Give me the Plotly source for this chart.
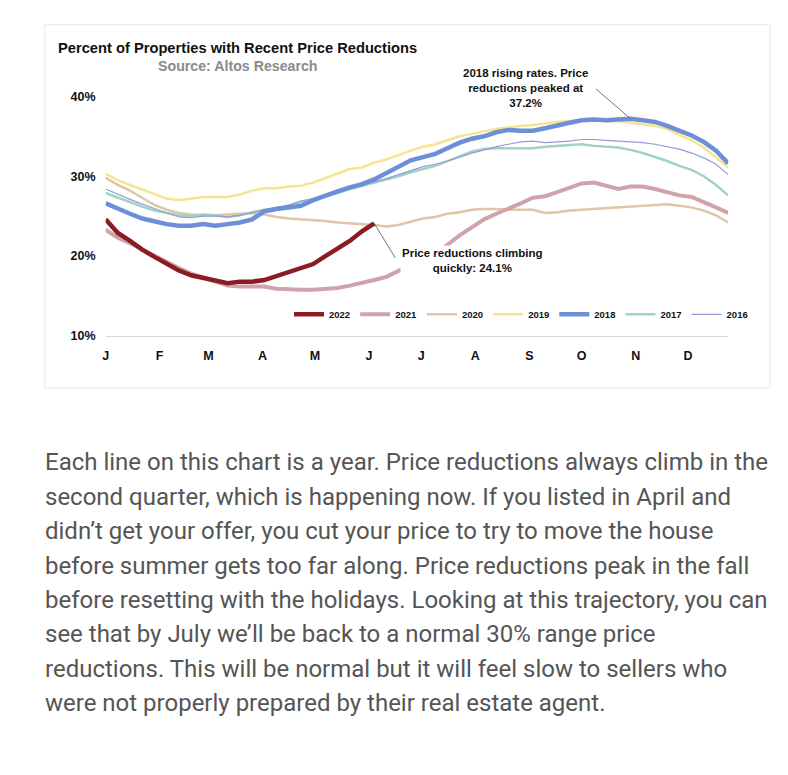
import plotly.graph_objects as go

# ---------------- data ----------------
MONTH_LABELS = ["J", "F", "M", "A", "M", "J", "J", "A", "S", "O", "N", "D"]
MONTH_START_DAY = [0, 31, 59, 90, 120, 151, 181, 212, 243, 273, 304, 334]

YEARS = ["2022", "2021", "2020", "2019", "2018", "2017", "2016"]

Y2022 = [24.6, 22.9, 21.9, 20.8, 19.9, 19.0, 18.2, 17.6, 17.3, 16.9, 16.6, 16.8,
         16.8, 17.0, 17.5, 18.1, 18.6, 19.0, 20.0, 21.0, 21.9, 23.1, 24.1]

Y2021 = [23.3, 22.3, 21.6, 20.8, 20.1, 19.3, 18.5, 17.8, 17.3, 16.7, 16.3, 16.2,
         16.2, 16.2, 15.9, 15.8, 15.8, 15.8, 15.9, 16.0, 16.3, 16.6, 17.0, 17.4,
         18.2, 18.9, 19.6, 20.4, 21.4, 22.6, 23.6, 24.6, 25.3, 25.9, 26.6, 27.3,
         27.5, 28.0, 28.6, 29.1, 29.2, 28.8, 28.4, 28.7, 28.7, 28.4, 28.0, 27.6,
         27.4, 26.8, 26.1, 25.4]

Y2020 = [29.8, 28.9, 28.2, 27.3, 26.4, 25.8, 25.4, 25.2, 25.1, 25.1, 25.2, 25.3,
         25.4, 25.2, 24.9, 24.7, 24.6, 24.5, 24.4, 24.2, 24.1, 24.0, 23.9, 23.7,
         23.9, 24.3, 24.7, 24.9, 25.3, 25.5, 25.8, 25.9, 25.9, 25.8, 25.8, 25.8,
         25.4, 25.5, 25.7, 25.8, 25.9, 26.0, 26.1, 26.2, 26.3, 26.4, 26.5, 26.3,
         26.1, 25.7, 25.1, 24.2]

Y2019 = [30.3, 29.5, 28.9, 28.3, 27.8, 27.2, 27.0, 27.2, 27.4, 27.4, 27.4, 27.7,
         28.2, 28.5, 28.5, 28.7, 28.8, 29.2, 29.8, 30.3, 30.9, 31.1, 31.7, 32.1,
         32.7, 33.2, 33.7, 34.0, 34.5, 35.0, 35.3, 35.6, 35.9, 36.1, 36.3, 36.4,
         36.6, 36.8, 36.9, 37.0, 37.0, 36.9, 36.9, 36.7, 36.5, 36.3, 35.9, 35.2,
         34.5, 33.6, 32.4, 31.1]

Y2018 = [26.6, 25.9, 25.3, 24.7, 24.3, 24.0, 23.8, 23.8, 24.0, 23.8, 24.0, 24.2,
         24.6, 25.6, 25.9, 26.1, 26.3, 27.0, 27.6, 28.1, 28.6, 29.0, 29.6, 30.4,
         31.3, 32.0, 32.4, 32.8, 33.5, 34.2, 34.7, 35.0, 35.5, 35.8, 35.7, 35.7,
         36.0, 36.4, 36.7, 37.0, 37.1, 37.0, 37.1, 37.2, 37.0, 36.8, 36.3, 35.7,
         35.1, 34.3, 33.2, 31.6]

Y2017 = [27.9, 27.3, 26.8, 26.2, 25.7, 25.4, 25.1, 25.0, 25.2, 25.1, 24.9, 25.1,
         25.5, 25.8, 26.0, 26.3, 26.8, 27.1, 27.5, 27.9, 28.4, 28.8, 29.2, 29.6,
         30.0, 30.5, 30.9, 31.3, 31.9, 32.5, 33.1, 33.4, 33.5, 33.5, 33.5, 33.5,
         33.7, 33.8, 33.9, 34.0, 33.8, 33.7, 33.6, 33.3, 32.9, 32.4, 31.9, 31.3,
         30.8, 30.0, 28.9, 27.6]

Y2016 = [28.4, 27.8, 27.1, 26.5, 25.9, 25.4, 24.9, 24.8, 25.0, 25.0, 24.9, 25.1,
         25.4, 25.8, 26.1, 26.4, 26.9, 27.2, 27.6, 28.0, 28.4, 28.9, 29.3, 29.7,
         30.2, 30.7, 31.2, 31.5, 31.9, 32.4, 32.9, 33.3, 33.7, 34.0, 34.3, 34.4,
         34.2, 34.3, 34.4, 34.6, 34.6, 34.5, 34.4, 34.3, 34.2, 34.0, 33.7, 33.4,
         32.9, 32.3, 31.5, 30.2]

Y_TICKS = [10, 20, 30, 40]
Y_TICK_TEXT = ["10%", "20%", "30%", "40%"]

BODY_LINES = [
    "Each line on this chart is a year. Price reductions always climb in the",
    "second quarter, which is happening now. If you listed in April and",
    "didn\u2019t get your offer, you cut your price to try to move the house",
    "before summer gets too far along. Price reductions peak in the fall",
    "before resetting with the holidays. Looking at this trajectory, you can",
    "see that by July we\u2019ll be back to a normal 30% range price",
    "reductions. This will be normal but it will feel slow to sellers who",
    "were not properly prepared by their real estate agent.",
]

# ---------------- layout helpers ----------------
W, H = 788, 775


def px(x):
    return x / W


def py(y):
    return 1 - y / H


FONT = "Arial, Liberation Sans, sans-serif"

series = {
    "2022": (Y2022, "#8B1C24", 4.5),
    "2021": (Y2021, "#D2A2AB", 4.0),
    "2020": (Y2020, "#DEC6A7", 2.5),
    "2019": (Y2019, "#F8E48F", 2.5),
    "2018": (Y2018, "#6D8FD7", 4.5),
    "2017": (Y2017, "#A0D3C4", 2.5),
    "2016": (Y2016, "#949CD8", 1.2),
}
draw_order = ["2020", "2019", "2017", "2016", "2021", "2018", "2022"]

fig = go.Figure()
for name in draw_order:
    vals, color, width = series[name]
    fig.add_trace(go.Scatter(
        x=list(range(len(vals))), y=vals, mode="lines", name=name,
        line=dict(color=color, width=width),
        legendrank=YEARS.index(name) + 1,
        hoverinfo="skip",
    ))

tick_pos = [d / 7 for d in MONTH_START_DAY]

annotations = [
    dict(text="Percent of Properties with Recent Price Reductions",
         x=px(235.5), y=py(42), xref="paper", yref="paper", showarrow=False,
         xanchor="center", yanchor="middle",
         font=dict(family=FONT, size=14.7, color="#111111", weight="bold")),
    dict(text="Source: Altos Research",
         x=px(235.5), y=py(60), xref="paper", yref="paper", showarrow=False,
         xanchor="center", yanchor="middle",
         font=dict(family=FONT, size=14.2, color="#8a8a8a", weight="bold")),
    dict(text="2018 rising rates. Price<br>reductions peaked at<br>37.2%",
         x=px(524.5), y=py(82), xref="paper", yref="paper", showarrow=False,
         xanchor="center", yanchor="middle",
         font=dict(family=FONT, size=11.5, color="#111111", weight="bold")),
    dict(text="Price reductions climbing<br>quickly: 24.1%",
         x=px(471), y=py(258), xref="paper", yref="paper", showarrow=False,
         xanchor="center", yanchor="middle", bgcolor="white",
         font=dict(family=FONT, size=11.5, color="#111111", weight="bold")),
    # pointer lines
    dict(text="", x=Y2018.index(max(Y2018)), y=max(Y2018), xref="x", yref="y",
         showarrow=True, arrowhead=0, arrowwidth=0.8, arrowcolor="#555555",
         ax=-36, ay=-31, standoff=0),
    dict(text="", x=len(Y2022) - 1, y=Y2022[-1], xref="x", yref="y",
         showarrow=True, arrowhead=0, arrowwidth=0.8, arrowcolor="#555555",
         ax=22, ay=36, standoff=0),
]

BODY_SIZE = 24
first_baseline = 471.7
line_step = 35.1
for i, line in enumerate(BODY_LINES):
    center = first_baseline + line_step * i - 0.342 * BODY_SIZE
    annotations.append(dict(
        text=line, x=px(40.5), y=py(center), xref="paper", yref="paper",
        showarrow=False, xanchor="left", yanchor="middle",
        font=dict(family="Roboto", size=BODY_SIZE, color="#555555"),
    ))

fig.update_layout(
    width=W, height=H,
    margin=dict(l=0, r=0, t=0, b=0),
    paper_bgcolor="white", plot_bgcolor="rgba(0,0,0,0)",
    showlegend=True,
    legend=dict(orientation="h", x=px(520), y=py(313), xanchor="center", yanchor="middle",
                font=dict(family=FONT, size=9.5, color="#111111", weight="bold"),
                bgcolor="rgba(0,0,0,0)", itemwidth=30, traceorder="normal"),
    xaxis=dict(domain=[px(103), px(728)], range=[0, 51], showgrid=False, zeroline=False,
               tickvals=tick_pos, ticktext=MONTH_LABELS, ticks="",
               showline=True, linecolor="#d9d9d9", linewidth=1.2,
               ticklabelstandoff=8,
               tickfont=dict(family=FONT, size=12.5, color="#111111", weight="bold")),
    yaxis=dict(domain=[py(335), py(91)], range=[10, 40], showgrid=False, zeroline=False,
               tickvals=Y_TICKS, ticktext=Y_TICK_TEXT, ticks="", showline=False,
               ticklabelstandoff=9,
               tickfont=dict(family=FONT, size=12.5, color="#111111", weight="bold")),
    annotations=annotations,
    shapes=[dict(type="rect", xref="paper", yref="paper",
                 x0=px(42), x1=px(770), y0=py(388), y1=py(18),
                 line=dict(color="#e8e8e8", width=1), layer="below")],
)

fig.write_html(
    "out.html",
    config={"displayModeBar": False},
    post_script=("document.body.style.margin='0px';"
                 "document.body.style.overflow='hidden';"
                 "document.documentElement.style.overflow='hidden';"),
)
